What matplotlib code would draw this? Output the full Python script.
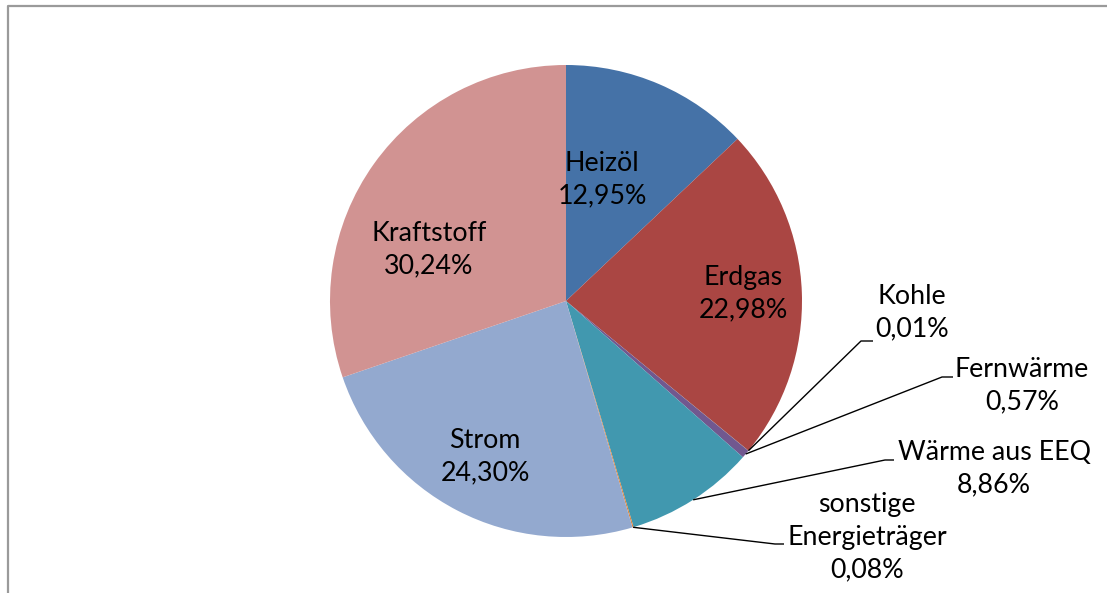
import numpy as np
import matplotlib.pyplot as plt

# Energy mix shares (%)
labels = ['Heizöl', 'Erdgas', 'Kohle', 'Fernwärme', 'Wärme aus EEQ',
          'sonstige\nEnergieträger', 'Strom', 'Kraftstoff']
shares = [12.95, 22.98, 0.01, 0.57, 8.86, 0.08, 24.30, 30.24]
colors = ['#4572A7', '#AA4643', '#89A54E', '#71588F', '#4198AF',
          '#DB843D', '#93A9CF', '#D19392']

plt.rcParams['font.family'] = ['Lato', 'DejaVu Sans']

W, H = 1107, 593
fig = plt.figure(figsize=(W / 100, H / 100), dpi=100)
ax = fig.add_axes([0, 0, 1, 1])

cx, cy, r = 566, H - 301, 236
wedges, _ = ax.pie(shares, colors=colors, startangle=90, counterclock=False,
                   center=(cx, cy), radius=r, frame=True,
                   wedgeprops=dict(linewidth=0))
ax.set_xlim(0, W)
ax.set_ylim(0, H)
ax.axis('off')


def pct(v):
    return f'{v:.2f}%'.replace('.', ',')


fs = 19.3
ls = 1.38
# labels inside the big slices (position in pixels from top-left)
inside = {0: (602, 180), 1: (743, 294), 6: (485, 457), 7: (429, 250)}
for i, (x, y) in inside.items():
    ax.text(x, H - y, f'{labels[i]}\n{pct(shares[i])}', ha='center',
            va='center', fontsize=fs, linespacing=ls)

# labels outside with leader lines: (elbow, end of line, text centre)
outside = {
    2: ((861, 341), (873, 341), (912, 313)),
    3: ((942, 377), (953, 377), (1022, 386)),
    4: ((885, 460), (894, 460), (994, 469)),
    5: ((775, 544), (784, 544), (867, 537)),
}
for i, (elbow, end, txt) in outside.items():
    w = wedges[i]
    mid = np.deg2rad((w.theta1 + w.theta2) / 2)
    sx, sy = cx + r * np.cos(mid), cy + r * np.sin(mid)
    ax.plot([sx, elbow[0], end[0]], [sy, H - elbow[1], H - end[1]],
            color='black', lw=1.0, solid_capstyle='butt')
    ax.text(txt[0], H - txt[1], f'{labels[i]}\n{pct(shares[i])}',
            ha='center', va='center', fontsize=fs, linespacing=ls)

# chart frame (left and top edge visible)
ax.plot([8, 8, 1106], [0, H - 5.5, H - 5.5], color='#9A9A9A', lw=1.6)

fig.savefig('out.png', dpi=100)
